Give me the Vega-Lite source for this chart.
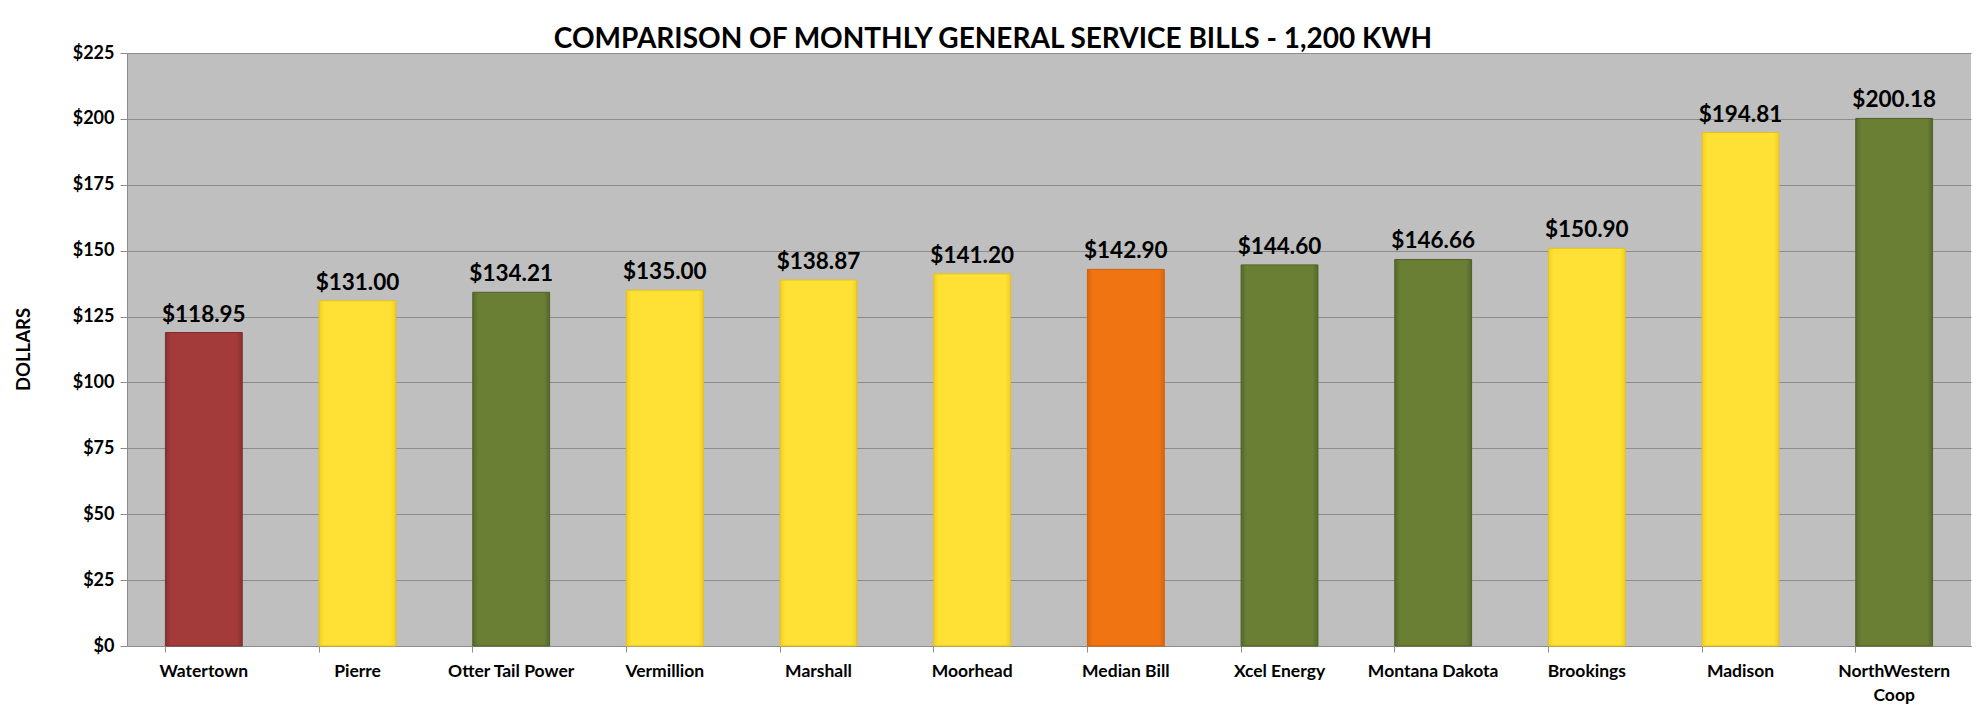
{
  "$schema": "https://vega.github.io/schema/vega-lite/v6.json",
  "width": 1844,
  "height": 593,
  "autosize": {"type": "none"},
  "padding": {"left": 127, "top": 53, "right": 15, "bottom": 77},
  "background": "white",
  "title": {
    "text": "COMPARISON OF MONTHLY GENERAL SERVICE BILLS - 1,200 KWH",
    "font": "Lato",
    "fontSize": 28,
    "fontWeight": "bold",
    "color": "#000000",
    "anchor": "middle",
    "frame": "group",
    "dx": -56,
    "offset": -10
  },
  "data": {
    "values": [
      {"name": "Watertown", "bill": 118.95, "group": "Watertown"},
      {"name": "Pierre", "bill": 131.00, "group": "Municipal"},
      {"name": "Otter Tail Power", "bill": 134.21, "group": "Utility"},
      {"name": "Vermillion", "bill": 135.00, "group": "Municipal"},
      {"name": "Marshall", "bill": 138.87, "group": "Municipal"},
      {"name": "Moorhead", "bill": 141.20, "group": "Municipal"},
      {"name": "Median Bill", "bill": 142.90, "group": "Median"},
      {"name": "Xcel Energy", "bill": 144.60, "group": "Utility"},
      {"name": "Montana Dakota", "bill": 146.66, "group": "Utility"},
      {"name": "Brookings", "bill": 150.90, "group": "Municipal"},
      {"name": "Madison", "bill": 194.81, "group": "Municipal"},
      {"name": "NorthWestern Coop", "bill": 200.18, "group": "Utility"}
    ]
  },
  "encoding": {
    "x": {
      "field": "name",
      "type": "nominal",
      "sort": null,
      "scale": {
        "domain": ["Watertown", "Pierre", "Otter Tail Power", "Vermillion", "Marshall", "Moorhead", "Median Bill", "Xcel Energy", "Montana Dakota", "Brookings", "Madison", "NorthWestern Coop"],
        "paddingInner": 0.5,
        "paddingOuter": 0.25
      },
      "axis": {
        "title": null,
        "labelAngle": 0,
        "labelFont": "Lato",
        "labelFontSize": 17.5,
        "labelFontWeight": "bold",
        "labelColor": "#000000",
        "labelPadding": 10,
        "labelLineHeight": 24,
        "labelExpr": "datum.label == 'NorthWestern Coop' ? ['NorthWestern', 'Coop'] : datum.label",
        "bandPosition": 0,
        "ticks": true,
        "tickSize": 6,
        "tickColor": "#8C8C8C",
        "domainColor": "#8C8C8C",
        "grid": false
      }
    },
    "y": {
      "field": "bill",
      "type": "quantitative",
      "scale": {"domain": [0, 225], "nice": false},
      "axis": {
        "title": "DOLLARS",
        "titleFont": "Lato",
        "titleFontSize": 18.5,
        "titleFontWeight": "bold",
        "titleColor": "#000000",
        "titleX": -104,
        "titleY": 296,
        "titleAngle": -90,
        "titleAlign": "center",
        "titleBaseline": "middle",
        "values": [0, 25, 50, 75, 100, 125, 150, 175, 200, 225],
        "format": "$,.0f",
        "labelFont": "Lato",
        "labelFontSize": 18,
        "labelFontWeight": "bold",
        "labelColor": "#000000",
        "labelPadding": 6,
        "tickSize": 7,
        "tickColor": "#8C8C8C",
        "domainColor": "#8C8C8C",
        "grid": true,
        "gridColor": "#8C8C8C",
        "gridWidth": 1
      }
    }
  },
  "layer": [
    {
      "transform": [{"filter": "datum.group == 'Watertown'"}],
      "mark": {
        "type": "bar",
        "strokeWidth": 1,
        "stroke": "#7E2C2C",
        "fill": {"gradient": "linear", "x1": 0, "x2": 1, "y1": 0, "y2": 0,
          "stops": [{"offset": 0, "color": "#862F2F"}, {"offset": 0.07, "color": "#A33B3B"}, {"offset": 0.93, "color": "#A33B3B"}, {"offset": 1, "color": "#862F2F"}]}
      }
    },
    {
      "transform": [{"filter": "datum.group == 'Municipal'"}],
      "mark": {
        "type": "bar",
        "strokeWidth": 1,
        "stroke": "#E5C21C",
        "fill": {"gradient": "linear", "x1": 0, "x2": 1, "y1": 0, "y2": 0,
          "stops": [{"offset": 0, "color": "#F2CF22"}, {"offset": 0.07, "color": "#FFE135"}, {"offset": 0.93, "color": "#FFE135"}, {"offset": 1, "color": "#F2CF22"}]}
      }
    },
    {
      "transform": [{"filter": "datum.group == 'Utility'"}],
      "mark": {
        "type": "bar",
        "strokeWidth": 1,
        "stroke": "#4F6127",
        "fill": {"gradient": "linear", "x1": 0, "x2": 1, "y1": 0, "y2": 0,
          "stops": [{"offset": 0, "color": "#56682A"}, {"offset": 0.07, "color": "#6A7E34"}, {"offset": 0.93, "color": "#6A7E34"}, {"offset": 1, "color": "#56682A"}]}
      }
    },
    {
      "transform": [{"filter": "datum.group == 'Median'"}],
      "mark": {
        "type": "bar",
        "strokeWidth": 1,
        "stroke": "#CF600A",
        "fill": {"gradient": "linear", "x1": 0, "x2": 1, "y1": 0, "y2": 0,
          "stops": [{"offset": 0, "color": "#DA660C"}, {"offset": 0.07, "color": "#F07512"}, {"offset": 0.93, "color": "#F07512"}, {"offset": 1, "color": "#DA660C"}]}
      }
    },
    {
      "mark": {
        "type": "text",
        "font": "Lato",
        "fontSize": 22.5,
        "fontWeight": "bold",
        "color": "#000000",
        "baseline": "alphabetic",
        "dy": -11
      },
      "encoding": {
        "text": {"field": "bill", "type": "quantitative", "format": "$,.2f"}
      }
    }
  ],
  "config": {
    "view": {"fill": "#BFBFBF", "stroke": null}
  }
}
